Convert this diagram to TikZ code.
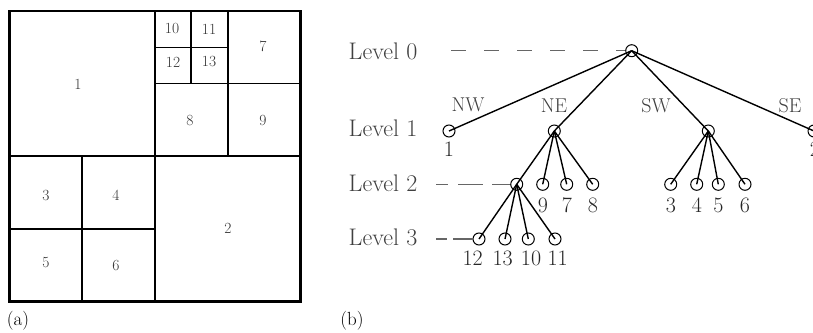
\documentclass[tikz,border=0pt]{standalone}
\begin{document}
\begin{tikzpicture}[x=1pt,y=-1pt,
  outer/.style={line width=2.4pt},
  midline/.style={line width=2pt},
  thin/.style={line width=1.4pt},
  cellnum/.style={font=\fontsize{15.5}{18}\selectfont, text=black!80, inner sep=0pt},
  tnode/.style={circle, draw, line width=1pt, minimum size=12pt, inner sep=0pt},
  edge/.style={line width=1.4pt},
  lvl/.style={font=\fontsize{24}{28}\selectfont, text=black!75, inner sep=0pt},
  tlab/.style={font=\fontsize{22}{26}\selectfont, text=black!85, inner sep=0pt},
  dirlab/.style={font=\fontsize{20}{24}\selectfont, text=black!75, inner sep=0pt},
  guide/.style={line width=1.2pt, draw=black!60},
  caplab/.style={font=\fontsize{19}{22}\selectfont, inner sep=0pt}]
\useasboundingbox (0,0) rectangle (813,332);

% ---------- (a) region quadtree ----------
\draw[outer] (9.5,11) rectangle (300.5,301.5);
\draw[midline] (155,11) -- (155,301.5);
\draw[midline] (9.5,156) -- (300.5,156);
\draw[thin] (82,156) -- (82,301.5);
\draw[thin] (9.5,229) -- (155,229);
\draw[thin] (228,11) -- (228,156);
\draw[thin] (155,83.5) -- (300.5,83.5);
\draw[thin] (191,11) -- (191,83.5);
\draw[thin] (155,47.5) -- (228,47.5);

\node[cellnum] (c1)  at (78,84)   {1};
\node[cellnum] (c10) at (172,29)  {10};
\node[cellnum] (c11) at (209,29)  {11};
\node[cellnum] (c12) at (173,62)  {12};
\node[cellnum] (c13) at (209,62)  {13};
\node[cellnum] (c7)  at (263,46)  {7};
\node[cellnum] (c8)  at (190,120) {8};
\node[cellnum] (c9)  at (263,120) {9};
\node[cellnum] (c3)  at (46,195)  {3};
\node[cellnum] (c4)  at (116,195) {4};
\node[cellnum] (c5)  at (46,263)  {5};
\node[cellnum] (c6)  at (116,265) {6};
\node[cellnum] (c2)  at (228,228) {2};
\node[caplab]  (capa) at (18,321) {(a)};

% ---------- (b) tree ----------
\node[lvl] (L0) at (383,51)  {Level 0};
\node[lvl] (L1) at (383,128) {Level 1};
\node[lvl] (L2) at (383,183) {Level 2};
\node[lvl] (L3) at (383,237) {Level 3};

\node[tnode] (root) at (631.7,50.7) {};
\node[tnode] (nw) at (449,131) {};
\node[tnode] (ne) at (554.3,131) {};
\node[tnode] (sw) at (708.3,131) {};
\node[tnode] (se) at (814,131) {};

\node[tnode] (ne1) at (516.7,184.3) {};
\node[tnode] (ne2) at (542.7,184.3) {};
\node[tnode] (ne3) at (566.7,184.3) {};
\node[tnode] (ne4) at (592.7,184.3) {};

\node[tnode] (sw1) at (670.7,184.3) {};
\node[tnode] (sw2) at (696.7,184.3) {};
\node[tnode] (sw3) at (718.3,184.3) {};
\node[tnode] (sw4) at (745,184.3) {};

\node[tnode] (q1) at (479,239) {};
\node[tnode] (q2) at (505,239) {};
\node[tnode] (q3) at (528.3,239) {};
\node[tnode] (q4) at (555,239) {};

\foreach \c in {nw,ne,sw,se} \draw[edge] (root.center) -- (\c.center);
\foreach \c in {ne1,ne2,ne3,ne4} \draw[edge] (ne.center) -- (\c.center);
\foreach \c in {sw1,sw2,sw3,sw4} \draw[edge] (sw.center) -- (\c.center);
\foreach \c in {q1,q2,q3,q4} \draw[edge] (ne1.center) -- (\c.center);

% guide dashes
\coordinate (g0) at (451,50.7);
\coordinate (g2) at (436,184.3);
\coordinate (g3) at (436,239);
\draw[guide, dash pattern=on 15pt off 18pt] (g0) -- (root.west);
\draw[guide, dash pattern=on 12pt off 10pt on 25pt off 9pt on 30pt] (g2) -- (ne1.west);
\draw[guide, dash pattern=on 11pt off 6pt on 30pt] (g3) -- (q1.west);

% direction labels
\node[dirlab] (dNW) at (468,105) {NW};
\node[dirlab] (dNE) at (554,106) {NE};
\node[dirlab] (dSW) at (656,106) {SW};
\node[dirlab] (dSE) at (790,106) {SE};

% leaf labels
\node[tlab] (t1) at (449,149) {1};
\node[tlab] (t2) at (815,149) {2};
\node[tlab] (t9) at (543,205) {9};
\node[tlab] (t7) at (567,205) {7};
\node[tlab] (t8) at (593,205) {8};
\node[tlab] (t3) at (671,205) {3};
\node[tlab] (t4) at (697,205) {4};
\node[tlab] (t5) at (718.5,205) {5};
\node[tlab] (t6) at (745,205) {6};
\node[tlab] (t12) at (472.7,258.5) {12};
\node[tlab] (t13) at (502.7,258.5) {13};
\node[tlab] (t10) at (531,258.5) {10};
\node[tlab] (t11) at (557.7,258.5) {11};

\node[caplab] (capb) at (352,321) {(b)};
\end{tikzpicture}
\end{document}
